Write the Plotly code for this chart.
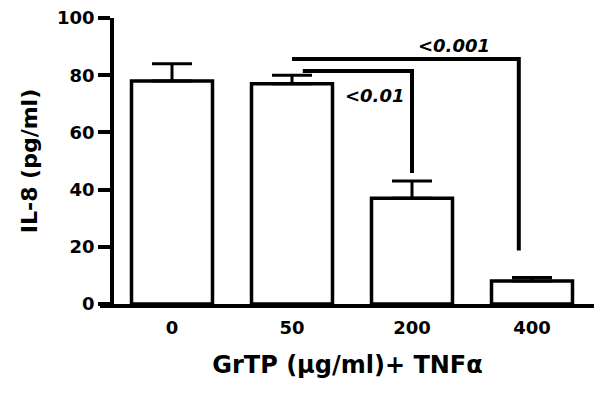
import plotly.graph_objects as go

categories = ["0", "50", "200", "400"]
means = [78, 77, 37, 8]
errors_up = [6, 3, 6, 1.3]
y_ticks = [0, 20, 40, 60, 80, 100]
sig_labels = ["<0.01", "<0.001"]

FONT = "DejaVu Sans"
x_idx = list(range(len(categories)))

fig = go.Figure()
fig.add_trace(go.Bar(
    x=x_idx, y=means, width=0.675,
    marker=dict(color="white", line=dict(color="black", width=3.5)),
    error_y=dict(type="data", symmetric=False, array=errors_up,
                 arrayminus=[0] * len(means), thickness=3, width=20, color="black"),
    showlegend=False,
))

# significance brackets
fig.add_shape(type="path", xref="x", yref="y",
              path="M 1.09 81.5 L 2.0 81.5 L 2.0 45.8",
              line=dict(color="black", width=4))
fig.add_shape(type="path", xref="x", yref="y",
              path="M 1.0 85.7 L 2.89 85.7 L 2.89 18.7",
              line=dict(color="black", width=4))

fig.add_annotation(x=1.69, y=72.9, xref="x", yref="y", text="<i>" + sig_labels[0] + "</i>",
                   showarrow=False, font=dict(family=FONT, size=18, color="black", weight="bold"))
fig.add_annotation(x=2.35, y=90.5, xref="x", yref="y", text="<i>" + sig_labels[1] + "</i>",
                   showarrow=False, font=dict(family=FONT, size=18, color="black", weight="bold"))

# page body has an 8px margin, so the figure is sized to fit inside the window
fig.update_layout(
    width=594, height=386,
    margin=dict(l=92, r=7, t=10, b=90),
    plot_bgcolor="white", paper_bgcolor="white",
    bargap=0.3,
    font=dict(family=FONT, color="black", weight="bold"),
)
fig.update_xaxes(
    range=[-0.6, 3.525], domain=[0, 1], automargin=False,
    tickmode="array", tickvals=x_idx, ticktext=categories,
    showline=True, linecolor="black", linewidth=3.5,
    ticks="", showgrid=False, zeroline=False,
    tickfont=dict(family=FONT, size=18, color="black", weight="bold"),
    ticklabelstandoff=5,
    title=dict(text="GrTP (µg/ml)+ TNFα", standoff=20,
               font=dict(family=FONT, size=24, color="black", weight="bold")),
)
fig.update_yaxes(
    range=[0, 100], anchor="free", position=12 / 495, automargin=False,
    tickmode="array", tickvals=y_ticks, ticklabeloverflow="allow",
    showline=True, linecolor="black", linewidth=3.5,
    ticks="outside", ticklen=12, tickwidth=3.5, tickcolor="black",
    showgrid=False, zeroline=False,
    tickfont=dict(family=FONT, size=18, color="black", weight="bold"),
    title=dict(text="IL-8 (pg/ml)", standoff=12,
               font=dict(family=FONT, size=22, color="black", weight="bold")),
)

fig.write_html("out.html")
